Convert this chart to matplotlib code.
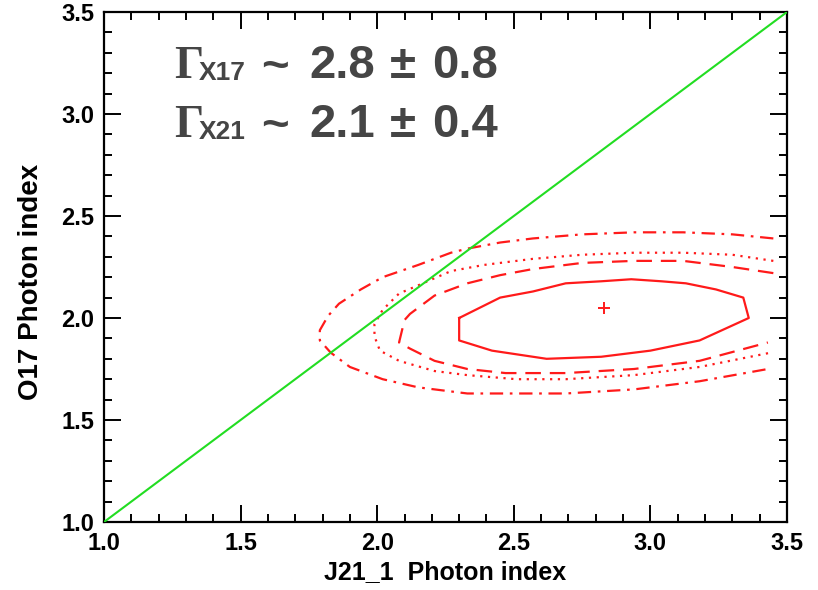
import matplotlib
matplotlib.use("Agg")
import matplotlib.pyplot as plt
from matplotlib.ticker import MultipleLocator

# Best-fit photon indices
best_x = 2.83
best_y = 2.05

# Confidence contours (J21_1 index, O17 index)
c1_x = [2.30, 2.30, 2.42, 2.62, 2.82, 3.00, 3.18, 3.36, 3.34, 3.24, 3.13, 3.04, 2.93, 2.82, 2.69, 2.57, 2.45, 2.30]
c1_y = [2.00, 1.89, 1.84, 1.80, 1.81, 1.84, 1.89, 2.00, 2.10, 2.14, 2.17, 2.18, 2.19, 2.18, 2.17, 2.13, 2.10, 2.00]

c2_x = [3.45, 3.30, 3.12, 2.94, 2.75, 2.57, 2.45, 2.33, 2.21, 2.12, 2.10, 2.08, 2.12, 2.21, 2.33, 2.47, 2.69, 2.94, 3.18, 3.43]
c2_y = [2.22, 2.25, 2.28, 2.28, 2.27, 2.24, 2.21, 2.17, 2.11, 2.02, 1.99, 1.88, 1.85, 1.79, 1.75, 1.73, 1.73, 1.75, 1.79, 1.88]

c3_x = [3.45, 3.30, 3.12, 2.94, 2.75, 2.57, 2.39, 2.27, 2.15, 2.08, 2.02, 1.99, 1.99, 2.01, 2.08, 2.21, 2.33, 2.51, 2.69, 2.94, 3.18, 3.44]
c3_y = [2.28, 2.31, 2.32, 2.32, 2.31, 2.29, 2.26, 2.23, 2.16, 2.12, 2.04, 1.97, 1.91, 1.84, 1.79, 1.74, 1.72, 1.70, 1.70, 1.72, 1.76, 1.83]

c4_x = [3.45, 3.30, 3.12, 2.94, 2.75, 2.57, 2.45, 2.33, 2.27, 2.15, 2.02, 1.94, 1.86, 1.82, 1.79, 1.79, 1.83, 1.90, 2.02, 2.15, 2.33, 2.51, 2.69, 2.94, 3.18, 3.43]
c4_y = [2.39, 2.41, 2.42, 2.42, 2.41, 2.39, 2.37, 2.34, 2.32, 2.26, 2.20, 2.14, 2.07, 2.01, 1.94, 1.89, 1.83, 1.76, 1.70, 1.66, 1.63, 1.63, 1.63, 1.65, 1.69, 1.75]

# Equality line
eq_x = [1.0, 3.5]
eq_y = [1.0, 3.5]

x_range = (1.0, 3.5)
y_range = (1.0, 3.5)
x_ticks = [1.0, 1.5, 2.0, 2.5, 3.0, 3.5]
y_ticks = [1.0, 1.5, 2.0, 2.5, 3.0, 3.5]

# Summary lines: subscript label, value, error
gamma_subs = ['X17', 'X21']
gamma_vals = ['2.8', '2.1']
gamma_errs = ['0.8', '0.4']

plt.rcParams['font.family'] = ['Liberation Sans', 'DejaVu Sans']

W, H = 818, 590
fig = plt.figure(figsize=(W / 100, H / 100), dpi=100)
ax = fig.add_axes([104 / W, 1 - 522 / H, (787 - 104) / W, (522 - 12) / H])

red = '#ff1a1a'
ax.plot(eq_x, eq_y, color='#22dd22', lw=1.5, zorder=3)
ax.plot(c1_x, c1_y, color=red, lw=1.6, ls='-')
ax.plot(c2_x, c2_y, color=red, lw=1.6, ls=(0, (7, 4)))
ax.plot(c3_x, c3_y, color=red, lw=1.6, ls=(0, (1, 2.5)))
ax.plot(c4_x, c4_y, color=red, lw=1.6, ls=(0, (6, 3, 1.2, 3)))
ax.plot([best_x], [best_y], marker='+', color=red, ms=9, mew=1.4, ls='none')

ax.set_xlim(*x_range)
ax.set_ylim(*y_range)
ax.set_xticks(x_ticks)
ax.set_yticks(y_ticks)
ax.set_xticklabels([f"{v:.1f}" for v in x_ticks])
ax.set_yticklabels([f"{v:.1f}" for v in y_ticks])
ax.xaxis.set_minor_locator(MultipleLocator(0.1))
ax.yaxis.set_minor_locator(MultipleLocator(0.1))
ax.tick_params(which='both', direction='in', top=True, right=True, width=1.4, color='black')
ax.tick_params(which='major', length=12, labelsize=17, pad=7)
ax.tick_params(which='minor', length=6)
for lab in ax.get_xticklabels() + ax.get_yticklabels():
    lab.set_fontweight('bold')
for s in ax.spines.values():
    s.set_linewidth(1.6)

ax.set_xlabel('J21_1  Photon index', fontsize=18, fontweight='bold', labelpad=4)
ax.set_ylabel('O17 Photon index', fontsize=20, fontweight='bold')
ax.yaxis.set_label_coords(-0.088, 1 - (282 - 12) / (522 - 12))

# Photon-index summary, placed in figure pixels
gray = '#454545'
def px(x, y):
    return x / W, 1 - y / H

for base, sub, val, err in zip([78, 137], gamma_subs, gamma_vals, gamma_errs):
    fig.text(*px(174, base), 'Γ', fontsize=33, color=gray, family='Liberation Serif',
             fontweight='bold', ha='left', va='baseline')
    fig.text(*px(199, base + 2), sub, fontsize=19, color=gray, fontweight='bold',
             ha='left', va='baseline')
    fig.text(*px(261, base + 2), '~', fontsize=34, color=gray, fontweight='bold',
             ha='left', va='baseline')
    fig.text(*px(309, base), val, fontsize=34, color=gray, fontweight='bold',
             ha='left', va='baseline')
    fig.text(*px(390, base), '±', fontsize=34, color=gray, fontweight='bold',
             ha='left', va='baseline')
    fig.text(*px(432, base), err, fontsize=34, color=gray, fontweight='bold',
             ha='left', va='baseline')

fig.savefig('out.png', dpi=100)
